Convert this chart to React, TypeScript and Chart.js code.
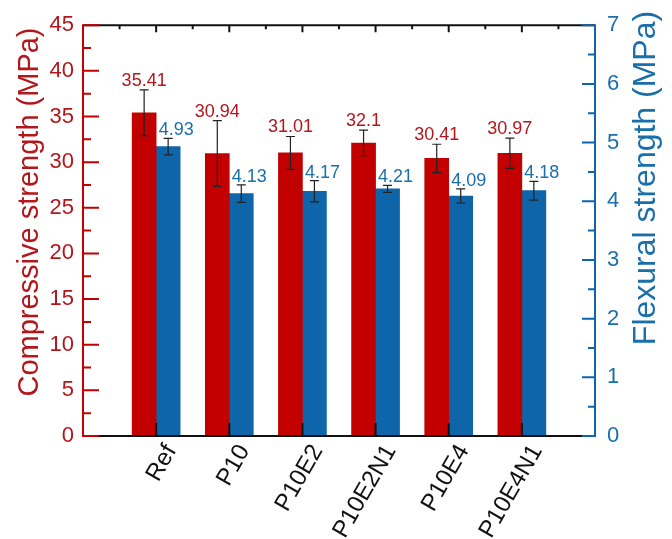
import React, { useEffect, useRef } from "react";
import { Chart, registerables } from "chart.js";

Chart.register(...registerables);

const categories = ["Ref", "P10", "P10E2", "P10E2N1", "P10E4", "P10E4N1"];
const compressive = [35.41, 30.94, 31.01, 32.1, 30.41, 30.97];
const compressiveErr = [2.5, 3.6, 1.8, 1.4, 1.55, 1.65];
const flexural = [4.93, 4.13, 4.17, 4.21, 4.09, 4.18];
const flexuralErr = [0.14, 0.15, 0.18, 0.06, 0.12, 0.16];
const compressiveLabels = ["35.41", "30.94", "31.01", "32.1", "30.41", "30.97"];
const flexuralLabels = ["4.93", "4.13", "4.17", "4.21", "4.09", "4.18"];

const RED = "#C20000";
const BLUE = "#0E65AA";
const RED_TEXT = "#B3161B";
const BLUE_TEXT = "#1A6FAB";
const FONT = "'Liberation Sans', Arial, sans-serif";

const xLabels = ["", ...categories, ""];
const pad = (a: number[]) => [null, ...a, null];

const customPlugin = {
  id: "custom",
  afterDatasetsDraw(chart: any) {
    const ctx = chart.ctx;
    const y = chart.scales.y;
    const y1 = chart.scales.y1;
    ctx.save();
    const sets = [
      { meta: chart.getDatasetMeta(0), vals: compressive, errs: compressiveErr, scale: y, labels: compressiveLabels, color: RED_TEXT, dx: 0, gap: 4 },
      { meta: chart.getDatasetMeta(1), vals: flexural, errs: flexuralErr, scale: y1, labels: flexuralLabels, color: BLUE_TEXT, dx: 8, gap: 3 },
    ];
    for (const s of sets) {
      s.vals.forEach((v, i) => {
        const el = s.meta.data[i + 1];
        if (!el) return;
        const cx = el.x;
        const top = s.scale.getPixelForValue(v + s.errs[i]);
        const bot = s.scale.getPixelForValue(v - s.errs[i]);
        ctx.strokeStyle = "#222";
        ctx.lineWidth = 1.2;
        ctx.beginPath();
        ctx.moveTo(cx, top);
        ctx.lineTo(cx, bot);
        ctx.moveTo(cx - 4.5, top);
        ctx.lineTo(cx + 4.5, top);
        ctx.moveTo(cx - 4.5, bot);
        ctx.lineTo(cx + 4.5, bot);
        ctx.stroke();
        ctx.fillStyle = s.color;
        ctx.font = `18px ${FONT}`;
        ctx.textAlign = "center";
        ctx.textBaseline = "alphabetic";
        ctx.fillText(s.labels[i], cx + s.dx, top - s.gap);
      });
    }
    ctx.restore();
  },
  afterDraw(chart: any) {
    const ctx = chart.ctx;
    const { left, right, top, bottom } = chart.chartArea;
    const x = chart.scales.x;
    const y = chart.scales.y;
    const y1 = chart.scales.y1;
    ctx.save();
    ctx.lineWidth = 2;
    ctx.strokeStyle = "#111";
    ctx.beginPath();
    ctx.moveTo(left, top);
    ctx.lineTo(right, top);
    ctx.moveTo(left, bottom);
    ctx.lineTo(right, bottom);
    for (let i = 0; i < xLabels.length; i++) {
      const px = x.getPixelForValue(i);
      if (i > 0 && i < xLabels.length - 1) {
        ctx.moveTo(px, bottom);
        ctx.lineTo(px, bottom - 13);
        ctx.moveTo(px, top);
        ctx.lineTo(px, top + 7);
      }
      if (i < xLabels.length - 1) {
        const mx = (px + x.getPixelForValue(i + 1)) / 2;
        ctx.moveTo(mx, top);
        ctx.lineTo(mx, top + 4);
      }
    }
    ctx.stroke();
    ctx.strokeStyle = RED;
    ctx.beginPath();
    ctx.moveTo(left, top - 1);
    ctx.lineTo(left, bottom + 1);
    for (let v = 0; v <= 45; v += 2.5) {
      const py = y.getPixelForValue(v);
      const len = v % 5 === 0 ? 16 : 8;
      ctx.moveTo(left, py);
      ctx.lineTo(left + len, py);
    }
    ctx.stroke();
    ctx.strokeStyle = BLUE;
    ctx.beginPath();
    ctx.moveTo(right, top - 1);
    ctx.lineTo(right, bottom + 1);
    for (let v = 0; v <= 7; v += 0.5) {
      const py = y1.getPixelForValue(v);
      const len = v % 1 === 0 ? 13 : 7;
      ctx.moveTo(right, py);
      ctx.lineTo(right - len, py);
    }
    ctx.stroke();
    ctx.fillStyle = "#111";
    ctx.font = `24px ${FONT}`;
    ctx.textAlign = "right";
    ctx.textBaseline = "middle";
    categories.forEach((c, i) => {
      const px = x.getPixelForValue(i + 1);
      ctx.save();
      ctx.translate(px + 15, bottom + 11);
      ctx.rotate((-60 * Math.PI) / 180);
      ctx.fillText(c, 0, 0);
      ctx.restore();
    });
    ctx.textAlign = "center";
    ctx.textBaseline = "middle";
    ctx.fillStyle = RED_TEXT;
    ctx.font = `29px ${FONT}`;
    ctx.save();
    ctx.translate(30, 212);
    ctx.rotate(-Math.PI / 2);
    ctx.fillText("Compressive strength (MPa)", 0, 0);
    ctx.restore();
    ctx.fillStyle = BLUE_TEXT;
    ctx.font = `32px ${FONT}`;
    ctx.save();
    ctx.translate(646, 178);
    ctx.rotate(-Math.PI / 2);
    ctx.fillText("Flexural strength (MPa)", 0, 0);
    ctx.restore();
    ctx.restore();
  },
};

export default function App() {
  const ref = useRef<HTMLCanvasElement>(null);
  useEffect(() => {
    if (!ref.current) return;
    const chart = new Chart(ref.current, {
      type: "bar",
      data: {
        labels: xLabels,
        datasets: [
          { label: "Compressive", data: pad(compressive) as any, backgroundColor: RED, yAxisID: "y", barThickness: 24, borderWidth: 0 },
          { label: "Flexural", data: pad(flexural) as any, backgroundColor: BLUE, yAxisID: "y1", barThickness: 24, borderWidth: 0 },
        ],
      },
      options: {
        animation: false,
        responsive: false,
        devicePixelRatio: 1,
        layout: { padding: { top: 23, left: 0, right: 0, bottom: 0 } },
        plugins: { legend: { display: false }, tooltip: { enabled: false } },
        scales: {
          x: {
            type: "category",
            offset: false,
            grid: { display: false, drawTicks: false },
            border: { display: false },
            ticks: { display: false },
            afterFit: (s: any) => { s.height = 103; },
          },
          y: {
            position: "left",
            min: 0,
            max: 45,
            grid: { display: false, drawTicks: false },
            border: { display: false },
            ticks: { stepSize: 5, color: RED_TEXT, padding: 9, font: { size: 22, family: FONT } },
            afterFit: (s: any) => { s.width = 83; },
          },
          y1: {
            position: "right",
            min: 0,
            max: 7,
            grid: { display: false, drawTicks: false },
            border: { display: false },
            ticks: { stepSize: 1, color: BLUE_TEXT, padding: 12, font: { size: 22, family: FONT } },
            afterFit: (s: any) => { s.width = 77; },
          },
        },
      },
      plugins: [customPlugin],
    });
    return () => chart.destroy();
  }, []);
  return (
    <div style={{ position: "fixed", left: 0, top: 0, width: 672, height: 539, background: "#fff" }}>
      <canvas ref={ref} width={672} height={539} style={{ display: "block" }} />
    </div>
  );
}
